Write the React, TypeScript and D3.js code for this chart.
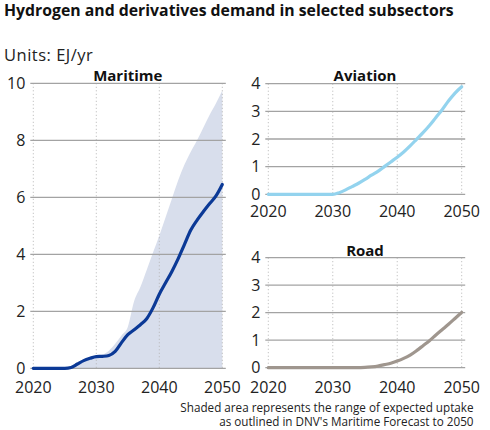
import React from "react";
import * as d3 from "d3";

const years = d3.range(2020, 2051);

const maritimeCentral = [0, 0, 0, 0, 0, 0, 0.03, 0.15, 0.27, 0.35, 0.41, 0.42, 0.45, 0.59, 0.9, 1.18, 1.35, 1.53, 1.74, 2.12, 2.6, 3.0, 3.4, 3.85, 4.35, 4.85, 5.2, 5.5, 5.78, 6.05, 6.45];
const maritimeUpper = [0, 0, 0, 0, 0, 0, 0.02, 0.12, 0.22, 0.32, 0.4, 0.48, 0.62, 0.86, 1.15, 1.45, 2.35, 2.85, 3.45, 4.06, 4.65, 5.3, 5.95, 6.6, 7.15, 7.6, 8.0, 8.45, 8.9, 9.3, 9.75];
const maritimeLower = [0, 0, 0, 0, 0, 0, 0, 0, 0, 0, 0, 0, 0, 0, 0, 0, 0, 0, 0, 0, 0, 0, 0, 0, 0, 0, 0, 0, 0, 0, 0];
const aviation = [0, 0, 0, 0, 0, 0, 0, 0, 0, 0, 0, 0.06, 0.16, 0.28, 0.4, 0.54, 0.69, 0.83, 1.0, 1.17, 1.34, 1.53, 1.75, 1.99, 2.23, 2.49, 2.78, 3.07, 3.39, 3.67, 3.89];
const road = [0, 0, 0, 0, 0, 0, 0, 0, 0, 0, 0, 0, 0, 0, 0.005, 0.01, 0.03, 0.06, 0.11, 0.16, 0.24, 0.34, 0.46, 0.62, 0.8, 0.98, 1.19, 1.39, 1.59, 1.8, 2.01];

const xTicks = [2020, 2030, 2040, 2050];
const maritimeYTicks = [0, 2, 4, 6, 8, 10];
const smallYTicks = [0, 1, 2, 3, 4];

const title = "Hydrogen and derivatives demand in selected subsectors";
const unitsLabel = "Units: EJ/yr";
const footnote = [
  "Shaded area represents the range of expected uptake",
  "as outlined in DNV's Maritime Forecast to 2050",
];

const FONT = "'Open Sans', Lato, sans-serif";
const TEXT = "#222";

type PanelProps = {
  name: string;
  x0: number;
  x1: number;
  yTop: number;
  yBottom: number;
  yMax: number;
  yTicks: number[];
  series: number[];
  color: string;
  band?: { lower: number[]; upper: number[] };
  titleY: number;
  xLabelY: number;
};

function Panel(p: PanelProps) {
  const x = d3.scaleLinear().domain([2020, 2050]).range([p.x0, p.x1]);
  const y = d3.scaleLinear().domain([0, p.yMax]).range([p.yBottom, p.yTop]);
  const line = d3
    .line<number>()
    .x((_, i) => x(years[i]))
    .y((d) => y(d))
    .curve(d3.curveMonotoneX);
  let areaPath: string | null = null;
  if (p.band) {
    const band = p.band;
    const area = d3
      .area<number>()
      .x((_, i) => x(years[i]))
      .y0((_, i) => y(band.lower[i]))
      .y1((d) => y(d))
      .curve(d3.curveMonotoneX);
    areaPath = area(band.upper);
  }
  const gx0 = p.x0 - 3;
  const gx1 = p.x1 + 3.5;
  return (
    <g>
      {areaPath && <path d={areaPath} fill="#d8deec" />}
      {xTicks.map((t) => (
        <line
          key={"v" + t}
          x1={x(t)}
          x2={x(t)}
          y1={y(p.yMax)}
          y2={y(0)}
          stroke="#b5b5b5"
          strokeWidth={1}
          strokeDasharray="1,2.5"
        />
      ))}
      {p.yTicks.map((t) => (
        <line
          key={"h" + t}
          x1={gx0}
          x2={gx1}
          y1={y(t)}
          y2={y(t)}
          stroke="#a3a3a3"
          strokeWidth={1.3}
        />
      ))}
      <path d={line(p.series) || ""} fill="none" stroke={p.color} strokeWidth={3.2} strokeLinejoin="round" strokeLinecap="round" />
      {p.yTicks.map((t) => (
        <text
          key={"yl" + t}
          x={gx0 - 5}
          y={y(t)}
          dy="0.36em"
          textAnchor="end"
          fontSize={16}
          fill={TEXT}
          fontFamily={FONT}
        >
          {t}
        </text>
      ))}
      {xTicks.map((t) => (
        <text
          key={"xl" + t}
          x={x(t)}
          y={p.xLabelY}
          textAnchor="middle"
          fontSize={16}
          fill={TEXT}
          fontFamily={FONT}
        >
          {t}
        </text>
      ))}
      <text
        x={(p.x0 + p.x1) / 2}
        y={p.titleY}
        textAnchor="middle"
        fontSize={15}
        fontWeight="bold"
        fill="#111"
        fontFamily={FONT}
      >
        {p.name}
      </text>
    </g>
  );
}

export default function App() {
  return (
    <svg width={490} height={430} style={{ position: "absolute", left: 0, top: 0, background: "#fff" }}>
      <text x={4} y={16} fontSize={15.8} fontWeight="bold" fill="#111" fontFamily={FONT}>
        {title}
      </text>
      <text x={4} y={61} fontSize={16.5} letterSpacing={0.5} fill={TEXT} fontFamily={FONT}>
        {unitsLabel}
      </text>
      <Panel
        name="Maritime"
        x0={33.3}
        x1={222.3}
        yTop={83.3}
        yBottom={368.3}
        yMax={10}
        yTicks={maritimeYTicks}
        series={maritimeCentral}
        color="#0b3996"
        band={{ lower: maritimeLower, upper: maritimeUpper }}
        titleY={80.5}
        xLabelY={392.5}
      />
      <Panel
        name="Aviation"
        x0={268.3}
        x1={461.7}
        yTop={83.7}
        yBottom={194.3}
        yMax={4}
        yTicks={smallYTicks}
        series={aviation}
        color="#93d3ee"
        titleY={80.7}
        xLabelY={216.5}
      />
      <Panel
        name="Road"
        x0={268.3}
        x1={461.7}
        yTop={257.7}
        yBottom={367.7}
        yMax={4}
        yTicks={smallYTicks}
        series={road}
        color="#9f968e"
        titleY={255.7}
        xLabelY={393}
      />
      <text x={473.5} y={411.5} textAnchor="end" fontSize={11.7} fill={TEXT} fontFamily={FONT}>
        {footnote[0]}
      </text>
      <text x={473.5} y={425.5} textAnchor="end" fontSize={11.7} fill={TEXT} fontFamily={FONT}>
        {footnote[1]}
      </text>
    </svg>
  );
}
